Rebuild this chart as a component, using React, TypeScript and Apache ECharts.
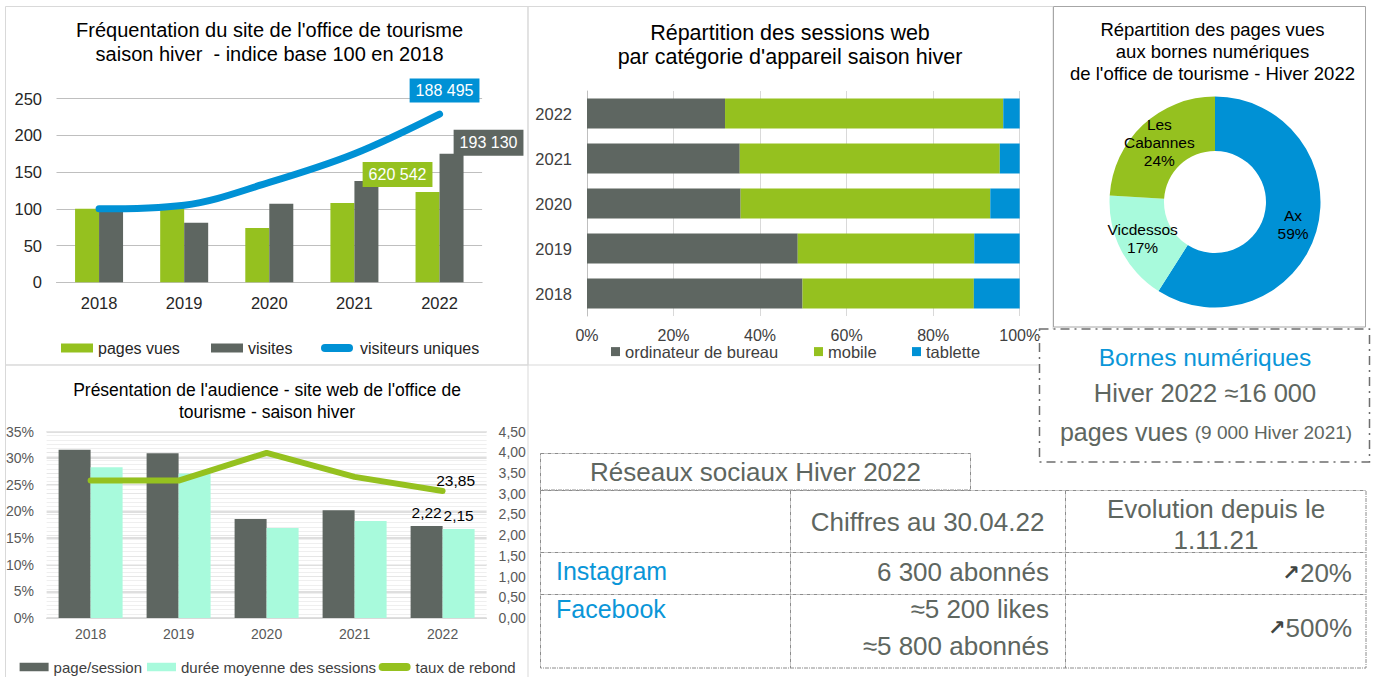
import React, { useEffect, useRef } from 'react';
import * as echarts from 'echarts';

// ---------- DATA ----------
const years = ['2018', '2019', '2020', '2021', '2022'];

// Panel 1 : indice base 100 en 2018
const pagesVuesIdx = [100, 101, 74, 108, 123];
const visitesIdx = [100, 81, 107, 138, 175];
const visiteursUniquesIdx = [100, 105, 136, 175, 229];
const totals2022 = { pagesVues: '620 542', visites: '193 130', visiteurs: '188 495' };

// Panel 2 : répartition des sessions par appareil (%)
const ordinateurShare = [49.8, 48.7, 35.5, 35.3, 31.9];
const mobileShare = [39.6, 40.8, 57.7, 60.1, 64.3];
const tabletteShare = [10.6, 10.5, 6.8, 4.6, 3.8];

// Panel 3 : bornes numériques
const borneNames = ['Ax', 'Vicdessos', 'Les Cabannes'];
const borneShares = [59, 17, 24];

// Panel 4 : audience
const pageSession = [4.06, 3.98, 2.39, 2.6, 2.22];
const dureeMoyenne = [3.64, 3.49, 2.17, 2.34, 2.15];
const tauxRebond = [25.8, 25.8, 31.0, 26.5, 23.85];

// Table : réseaux sociaux
const socialNames = ['Instagram', 'Facebook'];
const socialFigures = ['6 300 abonnés', '≈5 200 likes', '≈5 800 abonnés'];
const socialEvolution = ['20%', '500%'];

// ---------- STYLE ----------
const FONT = "'Liberation Sans', Arial, sans-serif";
const GREEN = '#95C11F';
const GRAY = '#5E6661';
const BLUE = '#0091D5';
const MINT = '#A8FADC';
const TXT = '#5E6660';
const LINK = '#0A96D8';
const DASH = '#8C8C8C';

const lastLabel = (arr: number[], label: any) =>
  arr.map((v, i) => (i === arr.length - 1 ? { value: v, label: { show: true, ...label } } : v));

const txt = (text: string, x: number, y: number, o: any = {}) => ({
  type: 'text',
  x,
  y,
  z: 20,
  style: {
    text,
    fill: o.fill || TXT,
    fontSize: o.fontSize || 25,
    fontFamily: FONT,
    align: o.align || 'center',
    verticalAlign: 'middle',
    lineHeight: o.lineHeight,
    rich: o.rich,
  },
});

const hline = (x1: number, x2: number, y: number) => ({
  type: 'line',
  z: 15,
  shape: { x1, y1: y, x2, y2: y },
  style: { stroke: DASH, lineWidth: 1, lineDash: [4, 1, 1, 1] },
});
const vline = (x: number, y1: number, y2: number) => ({
  type: 'line',
  z: 15,
  shape: { x1: x, y1, x2: x, y2 },
  style: { stroke: DASH, lineWidth: 1, lineDash: [4, 1, 1, 1] },
});

const legendItem = (name: string, left: number, top: number, w: number, h: number, icon: string, fontSize: number, color: string) => ({
  data: [name],
  left,
  top,
  padding: 0,
  itemWidth: w,
  itemHeight: h,
  icon,
  selectedMode: false,
  textStyle: { fontSize, color, fontFamily: FONT, lineHeight: 18 },
});

const PILL = 'path://M4,0 L28,0 A4,4 0 0 1 28,8 L4,8 A4,4 0 0 1 4,0 Z';
const ARROW_RICH = {
  ar: { fontSize: 21, fontWeight: 'bold', fontFamily: "'DejaVu Sans', sans-serif", fill: '#3F4542' },
  v: { fontSize: 26, fontFamily: FONT, fill: TXT },
};

const option: any = {
  animation: false,
  backgroundColor: '#fff',
  textStyle: { fontFamily: FONT },
  title: [
    {
      text: "Fréquentation du site de l'office de tourisme\nsaison hiver  - indice base 100 en 2018",
      left: 269.6, top: 18.6, textAlign: 'center', padding: 0,
      textStyle: { fontSize: 20, fontWeight: 'normal', color: '#000', lineHeight: 23.6, fontFamily: FONT },
    },
    {
      text: "Répartition des sessions web\npar catégorie d'appareil saison hiver",
      left: 790, top: 20.7, textAlign: 'center', padding: 0,
      textStyle: { fontSize: 21.5, fontWeight: 'normal', color: '#000', lineHeight: 24.5, fontFamily: FONT },
    },
    {
      text: "Répartition des pages vues\naux bornes numériques\nde l'office de tourisme - Hiver 2022",
      left: 1212.5, top: 18.3, textAlign: 'center', padding: 0,
      textStyle: { fontSize: 18.5, fontWeight: 'normal', color: '#000', lineHeight: 22, fontFamily: FONT },
    },
    {
      text: "Présentation de l'audience - site web de l'office de\ntourisme - saison hiver",
      left: 267, top: 379, textAlign: 'center', padding: 0,
      textStyle: { fontSize: 17.5, fontWeight: 'normal', color: '#000', lineHeight: 22, fontFamily: FONT },
    },
  ],
  legend: [
    legendItem('pages vues', 61, 339, 32, 9, 'rect', 16, '#262626'),
    legendItem('visites', 211, 339, 32, 9, 'rect', 16, '#262626'),
    legendItem('visiteurs uniques', 321, 339, 36, 8, PILL, 16, '#262626'),
    legendItem('ordinateur de bureau', 611, 342.6, 9, 9, 'rect', 16.5, '#404040'),
    legendItem('mobile', 814, 342.6, 9, 9, 'rect', 16.5, '#404040'),
    legendItem('tablette', 912, 342.6, 9, 9, 'rect', 16.5, '#404040'),
    legendItem('page/session', 19.6, 658, 29, 8.5, 'rect', 15, '#404040'),
    legendItem('durée moyenne des sessions', 147, 658, 29, 8.5, 'rect', 15, '#404040'),
    legendItem('taux de rebond', 378.6, 658, 32, 8, PILL, 15, '#404040'),
  ],
  grid: [
    { left: 56.5, top: 98.7, width: 425.6, height: 183.6 },
    { left: 587, top: 91, width: 432.7, height: 225 },
    { left: 46.6, top: 431.6, width: 440, height: 186.3 },
  ],
  xAxis: [
    {
      gridIndex: 0, type: 'category', data: years,
      axisLine: { lineStyle: { color: '#BFBFBF' } }, axisTick: { show: false },
      axisLabel: { fontSize: 16.5, color: '#262626', margin: 12 },
    },
    {
      gridIndex: 1, type: 'value', min: 0, max: 100, interval: 20,
      axisLabel: { formatter: '{value}%', fontSize: 16, color: '#404040', margin: 11 },
      splitLine: { lineStyle: { color: '#D9D9D9' } }, axisLine: { show: false }, axisTick: { show: false },
    },
    {
      gridIndex: 2, type: 'category', data: years,
      axisLine: { lineStyle: { color: '#D9D9D9' } }, axisTick: { show: false },
      axisLabel: { fontSize: 14, color: '#595959', margin: 9 },
    },
  ],
  yAxis: [
    {
      gridIndex: 0, type: 'value', min: 0, max: 250, interval: 50,
      axisLabel: { fontSize: 16.5, color: '#262626', margin: 14.5 },
      splitLine: { lineStyle: { color: '#BFBFBF' } }, axisLine: { show: false }, axisTick: { show: false },
    },
    {
      gridIndex: 1, type: 'category', data: years,
      axisLine: { show: true, lineStyle: { color: '#BFBFBF' } }, axisTick: { show: false },
      axisLabel: { fontSize: 16.5, color: '#404040', margin: 15 },
    },
    {
      gridIndex: 2, type: 'value', min: 0, max: 35, interval: 5,
      axisLabel: { formatter: '{value}%', fontSize: 14, color: '#595959', margin: 12.6 },
      splitLine: { lineStyle: { color: '#D4D4D4', width: 1.5 } }, axisLine: { show: false }, axisTick: { show: false },
    },
    {
      gridIndex: 2, type: 'value', position: 'right', min: 0, max: 4.5, interval: 0.5,
      axisLabel: { formatter: (v: number) => v.toFixed(2).replace('.', ','), fontSize: 14, color: '#595959', margin: 12 },
      splitLine: { lineStyle: { color: '#E6E6E6' } },
      minorTick: { show: false, splitNumber: 5 },
      minorSplitLine: { show: true, lineStyle: { color: '#EFEFEF' } },
      axisLine: { show: false }, axisTick: { show: false },
    },
  ],
  series: [
    {
      name: 'pages vues', type: 'bar', xAxisIndex: 0, yAxisIndex: 0, barWidth: 24, barGap: '0%',
      itemStyle: { color: GREEN }, silent: true,
      data: lastLabel(pagesVuesIdx, {
        formatter: totals2022.pagesVues, position: 'top', offset: [-30, 0],
        backgroundColor: GREEN, color: '#fff', fontSize: 16, padding: [4, 6, 3, 6], lineHeight: 18,
      }),
    },
    {
      name: 'visites', type: 'bar', xAxisIndex: 0, yAxisIndex: 0, barWidth: 24, barGap: '0%',
      itemStyle: { color: GRAY }, silent: true,
      data: lastLabel(visitesIdx, {
        formatter: totals2022.visites, position: 'top', offset: [37, 7],
        backgroundColor: GRAY, color: '#fff', fontSize: 16, padding: [4, 6, 4, 6], lineHeight: 18,
      }),
    },
    {
      name: 'visiteurs uniques', type: 'line', xAxisIndex: 0, yAxisIndex: 0, smooth: 0.35,
      symbol: 'circle', symbolSize: 1, showSymbol: true, silent: true,
      itemStyle: { color: BLUE }, lineStyle: { color: BLUE, width: 7, cap: 'round' },
      data: lastLabel(visiteursUniquesIdx, {
        formatter: totals2022.visiteurs, position: 'top', offset: [5, -6],
        backgroundColor: BLUE, color: '#fff', fontSize: 16, padding: [3, 6, 3, 6], lineHeight: 18,
      }),
    },
    {
      name: 'ordinateur de bureau', type: 'bar', xAxisIndex: 1, yAxisIndex: 1, stack: 'dev', barWidth: 30,
      itemStyle: { color: GRAY }, silent: true, data: ordinateurShare,
    },
    {
      name: 'mobile', type: 'bar', xAxisIndex: 1, yAxisIndex: 1, stack: 'dev', barWidth: 30,
      itemStyle: { color: GREEN }, silent: true, data: mobileShare,
    },
    {
      name: 'tablette', type: 'bar', xAxisIndex: 1, yAxisIndex: 1, stack: 'dev', barWidth: 30,
      itemStyle: { color: BLUE }, silent: true, data: tabletteShare,
    },
    {
      name: 'bornes', type: 'pie', center: [1215, 202], radius: [51, 105.5], startAngle: 90, clockwise: true,
      silent: true, avoidLabelOverlap: false, labelLine: { show: false },
      label: {
        position: 'inside', color: '#000', fontSize: 15.5, lineHeight: 18,
        formatter: (p: any) => p.name.replace(' ', '\n') + '\n' + Math.round(p.percent) + '%',
      },
      data: borneNames.map((n, i) => ({ name: n, value: borneShares[i], itemStyle: { color: [BLUE, MINT, GREEN][i] } })),
    },
    {
      name: 'page/session', type: 'bar', xAxisIndex: 2, yAxisIndex: 3, barWidth: 32, barGap: '0%',
      itemStyle: { color: GRAY }, silent: true,
      data: lastLabel(pageSession, {
        formatter: (p: any) => String(p.value).replace('.', ','), position: 'top', color: '#000', fontSize: 15.5,
      }),
    },
    {
      name: 'durée moyenne des sessions', type: 'bar', xAxisIndex: 2, yAxisIndex: 3, barWidth: 32, barGap: '0%',
      itemStyle: { color: MINT }, silent: true,
      data: lastLabel(dureeMoyenne, {
        formatter: (p: any) => String(p.value).replace('.', ','), position: 'top', color: '#000', fontSize: 15.5,
      }),
    },
    {
      name: 'taux de rebond', type: 'line', xAxisIndex: 2, yAxisIndex: 2,
      symbol: 'circle', symbolSize: 1, showSymbol: true, silent: true,
      itemStyle: { color: GREEN }, lineStyle: { color: GREEN, width: 6, cap: 'round' },
      data: lastLabel(tauxRebond, {
        formatter: (p: any) => String(p.value).replace('.', ','), position: 'top', offset: [13, 3], color: '#000', fontSize: 15.5,
      }),
    },
  ],
  graphic: [
    // panel borders
    { type: 'rect', z: -1, shape: { x: 5.5, y: 6.5, width: 522.5, height: 358.5 }, style: { fill: 'none', stroke: '#D9D9D9', lineWidth: 1 } },
    { type: 'rect', z: -1, shape: { x: 528, y: 6.5, width: 525, height: 358.5 }, style: { fill: 'none', stroke: '#D9D9D9', lineWidth: 1 } },
    { type: 'rect', z: -1, shape: { x: 5.5, y: 365, width: 522.5, height: 330 }, style: { fill: 'none', stroke: '#D9D9D9', lineWidth: 1 } },
    { type: 'rect', z: 1, shape: { x: 1053.5, y: 6.5, width: 312, height: 320.5 }, style: { fill: 'none', stroke: '#A6A6A6', lineWidth: 1 } },
    // bornes numériques box
    { type: 'rect', z: 10, shape: { x: 1039.5, y: 329, width: 330, height: 133 }, style: { fill: '#fff', stroke: '#6E6E6E', lineWidth: 1.5, lineDash: [9, 5, 2, 5] } },
    txt('Bornes numériques', 1205, 357, { fill: LINK, fontSize: 24.5 }),
    txt('Hiver 2022 ≈16 000', 1205, 393, { fontSize: 25.5 }),
    txt('{a|pages vues }{b|(9 000 Hiver 2021)}', 1206, 432, {
      rich: { a: { fontSize: 25, fontFamily: FONT, fill: TXT }, b: { fontSize: 19, fontFamily: FONT, fill: TXT } },
    }),
    // table
    { type: 'rect', z: 15, shape: { x: 540.5, y: 453.5, width: 430, height: 36.5 }, style: { fill: 'none', stroke: DASH, lineWidth: 1, lineDash: [4, 1, 1, 1] } },
    { type: 'rect', z: 15, shape: { x: 540.5, y: 490.5, width: 825.5, height: 177.5 }, style: { fill: 'none', stroke: DASH, lineWidth: 1, lineDash: [4, 1, 1, 1] } },
    vline(790.5, 490.5, 668),
    vline(1065.5, 490.5, 668),
    hline(540.5, 1366, 552.5),
    hline(540.5, 1366, 594.5),
    txt('Réseaux sociaux Hiver 2022', 755.5, 471.5, { fontSize: 26 }),
    txt('Chiffres au 30.04.22', 927.5, 522, { fontSize: 26 }),
    txt('Evolution depuis le\n1.11.21', 1216, 524, { fontSize: 26, lineHeight: 31 }),
    txt(socialNames[0], 556, 571, { fill: LINK, fontSize: 25, align: 'left' }),
    txt(socialNames[1], 556, 609, { fill: LINK, fontSize: 25, align: 'left' }),
    txt(socialFigures[0], 1049, 572, { fontSize: 26, align: 'right' }),
    txt(socialFigures[1], 1049, 609, { fontSize: 26, align: 'right' }),
    txt(socialFigures[2], 1049, 646, { fontSize: 26, align: 'right' }),
    txt('{ar|↗}{v|' + socialEvolution[0] + '}', 1352, 573, { fontSize: 26, align: 'right', rich: ARROW_RICH }),
    txt('{ar|↗}{v|' + socialEvolution[1] + '}', 1352, 628, { fontSize: 26, align: 'right', rich: ARROW_RICH }),
  ],
};

export default function App() {
  const ref = useRef<HTMLDivElement>(null);
  useEffect(() => {
    const chart = echarts.init(ref.current!, null, { renderer: 'svg' });
    chart.setOption(option);
    return () => chart.dispose();
  }, []);
  return (
    <div
      ref={ref}
      style={{ position: 'absolute', left: 0, top: 0, width: 1376, height: 677, background: '#fff' }}
    />
  );
}
